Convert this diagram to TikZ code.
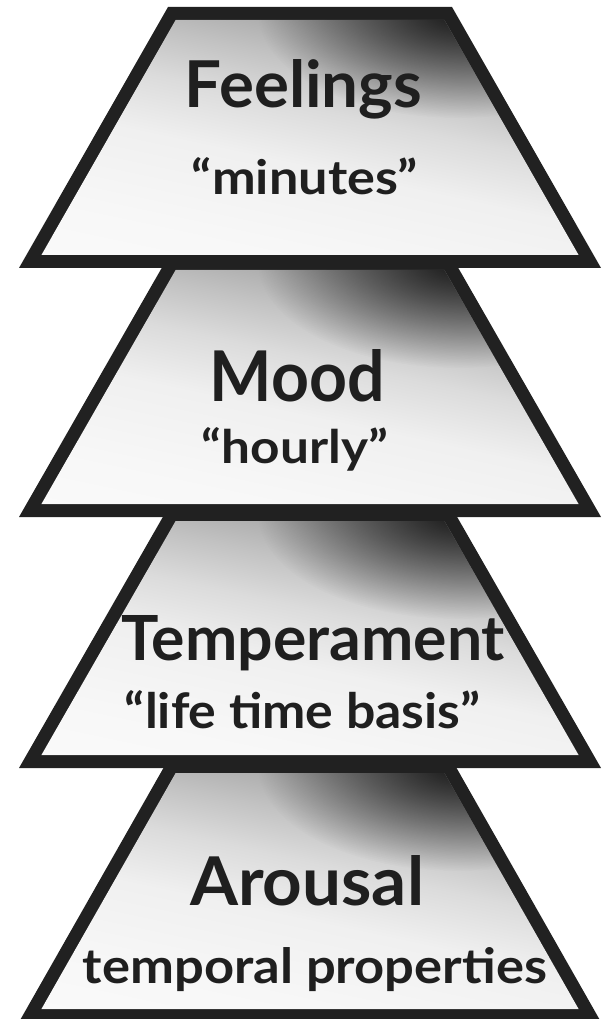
\documentclass[tikz,border=0pt]{standalone}
\usepackage{fontspec}
\usepackage{graphicx}
\usetikzlibrary{fadings}
\setmainfont{Lato}
\pgfdeclareverticalshading{trapshade}{100bp}{color(0bp)=(white); color(30bp)=(black!3); color(45bp)=(black!6); color(55bp)=(black!14); color(63bp)=(black!24); color(68bp)=(black!31); color(72bp)=(black!38); color(75bp)=(black!43); color(100bp)=(black!46)}
\tikzfading[name=cornerfade, inner color=transparent!5, outer color=transparent!100]
\newcommand\fitt[3]{\resizebox{\dimexpr#1pt*3/4\relax}{\dimexpr#2pt*3/4\relax}{#3}}
\newcommand\trapz[2]{%
  \fill[border] (310-142,#1) -- (310+142,#1) -- (310+291,#2) -- (310-291,#2) -- cycle;
  \begin{scope}
  \clip (310-134.4,#1+13) -- (310+134.4,#1+13) -- (310+268.6,#2-13) -- (310-268.6,#2-13) -- cycle;
  \fill[inside] (310-134.4,#1+13) -- (310+134.4,#1+13) -- (310+268.6,#2-13) -- (310-268.6,#2-13) -- cycle;
  \fill[black!92, path fading=cornerfade] (458,#1+6) ellipse [x radius=200, y radius=105];
  \end{scope}}
\begin{document}
\begin{tikzpicture}[x=0.75pt,y=-0.75pt,
  border/.style={fill=black!87},
  inside/.style={shading=trapshade, shading angle=-12},
  lbl/.style={anchor=base, inner sep=0pt, text=black!88}]
\useasboundingbox (0,0) rectangle (607,1019);
\trapz{7}{268}
\trapz{257}{517}
\trapz{508}{768}
\trapz{760}{1022}
\node[lbl] (feel) at (303.5,108) {\fitt{237}{48}{\bfseries Feelings}};
\node[lbl] (feelt) at (305,195) {\fitt{226}{37}{\bfseries “minutes”}};
\node[lbl] (mood) at (297.5,402) {\fitt{175}{52}{\bfseries Mood}};
\node[lbl] (moodt) at (295,463) {\fitt{186}{36}{\bfseries “hourly”}};
\node[lbl] (temp) at (313.5,660) {\fitt{383}{45}{\bfseries Temperament}};
\node[lbl] (tempt) at (302.5,728) {\fitt{355}{38}{\bfseries “life time basis”}};
\node[lbl] (arou) at (307,905) {\fitt{234}{50}{\bfseries Arousal}};
\node[lbl] (aroutt) at (315,983) {\fitt{464}{36}{\bfseries temporal properties}};
\end{tikzpicture}
\end{document}
